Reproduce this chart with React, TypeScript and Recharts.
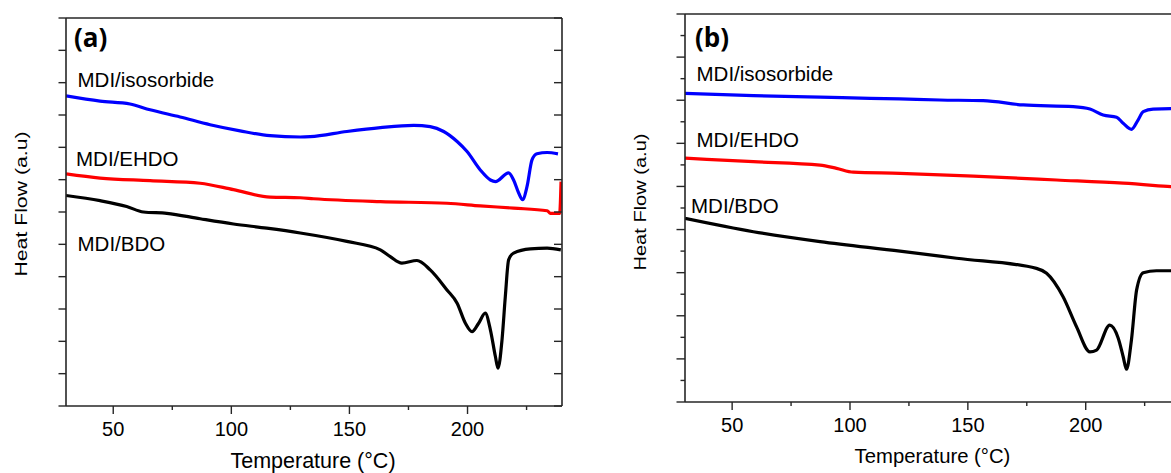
import React from 'react';
import { LineChart, Line, XAxis, YAxis } from 'recharts';

// ---------- Panel (a) data ----------
const isoA_T = [30, 44.4, 57.1, 65.6, 78.3, 91.0, 103.7, 116.4, 129.2, 133.4, 148.9, 163.1, 177.2, 184.2, 189.9, 195.6, 199.8, 205.4, 209.7, 211.8, 217.4, 219.5, 221.7, 223.3, 225.2, 227.3, 229.4, 233.7, 238.3];
const isoA_V = [9.59, 9.43, 9.34, 9.16, 8.94, 8.70, 8.51, 8.36, 8.32, 8.33, 8.49, 8.61, 8.68, 8.64, 8.49, 8.18, 7.87, 7.30, 6.99, 6.94, 7.21, 6.99, 6.58, 6.38, 6.79, 7.61, 7.80, 7.84, 7.80];

const ehdoA_T = [30, 44.4, 65.6, 86.8, 100.9, 116.4, 129.2, 134.8, 163.1, 191.3, 205.4, 219.5, 233.7, 235.1, 239.0, 239.6];
const ehdoA_V = [7.18, 7.05, 6.97, 6.89, 6.69, 6.46, 6.44, 6.41, 6.32, 6.27, 6.19, 6.12, 6.04, 5.96, 5.96, 6.94];

const bdoA_T = [30, 44.4, 55.7, 62.8, 72.7, 86.8, 100.9, 115.0, 129.2, 148.9, 163.1, 167.3, 172.2, 178.6, 184.2, 191.3, 195.6, 199.1, 201.9, 204.7, 207.5, 209.7, 211.8, 212.9, 214.6, 216.0, 217.4, 219.5, 226.6, 233.7, 239.5];
const bdoA_V = [6.51, 6.35, 6.17, 6.00, 5.96, 5.79, 5.63, 5.50, 5.35, 5.09, 4.83, 4.62, 4.42, 4.50, 4.21, 3.59, 3.18, 2.56, 2.30, 2.56, 2.87, 2.35, 1.53, 1.17, 2.04, 3.38, 4.52, 4.73, 4.86, 4.88, 4.83];

// ---------- Panel (b) data ----------
const isoB_T = [30, 59.0, 87.3, 108.5, 121.2, 138.1, 156.5, 173.5, 194.7, 201.8, 207.4, 213.1, 215.9, 219.4, 222.2, 224.4, 228.6, 236.1, 240];
const isoB_V = [14.32, 14.21, 14.14, 14.09, 14.06, 14.01, 13.98, 13.78, 13.70, 13.59, 13.31, 13.21, 12.93, 12.65, 13.08, 13.47, 13.59, 13.61, 13.61];

const ehdoB_T = [30, 59.0, 87.3, 94.3, 101.4, 121.2, 152.3, 187.6, 215.9, 236.1, 240];
const ehdoB_V = [11.31, 11.15, 10.99, 10.84, 10.66, 10.61, 10.48, 10.30, 10.15, 9.99, 9.96];

const bdoB_T = [30, 59.0, 87.3, 121.2, 145.2, 179.1, 183.4, 190.4, 196.1, 201.8, 204.6, 210.2, 213.8, 215.9, 217.3, 219.4, 221.6, 224.4, 230.0, 236.1, 240];
const bdoB_V = [8.52, 7.90, 7.44, 7.00, 6.67, 6.20, 5.97, 4.88, 3.49, 2.33, 2.41, 3.57, 2.96, 2.10, 1.52, 2.88, 5.20, 6.00, 6.09, 6.09, 6.09];

// ---------- Ticks / labels ----------
const xTicks = [50, 75, 100, 125, 150, 175, 200, 225];
const xDomain = [30, 240];
const topTicksA = [1, 2, 3, 4, 5, 6, 7, 8];
const yTicksA = [0, 1, 2, 3, 4, 5, 6, 7, 8, 9, 10, 11, 12];
const yTicksB = [0, 1, 2, 3, 4, 5, 6, 7, 8, 9, 10, 11, 12, 13, 14, 15, 16, 17, 18];
const seriesNames = ['MDI/isosorbide', 'MDI/EHDO', 'MDI/BDO'];
const panelTags = ['(a)', '(b)'];
const xTitle = 'Temperature (°C)';
const yTitle = 'Heat Flow (a.u)';

const zip = (t: number[], v: number[]) => t.map((x, i) => ({ t: x, v: v[i] }));

const AXIS = '#262626';
const FONT = '"Liberation Sans", Arial, sans-serif';

type Side = 'left' | 'right' | 'top' | 'bottom';
const makeTick = (side: Side, len: (v: number) => number, showLabel: (v: number) => boolean = () => false, labelDy = 30) =>
  (props: any) => {
    const { x, y, payload } = props;
    const v = payload.value;
    const L = len(v);
    let x2 = x;
    let y2 = y;
    if (side === 'left' || side === 'right') x2 = x - L;
    else y2 = y + L;
    return (
      <g>
        <line x1={x} y1={y} x2={x2} y2={y2} stroke={AXIS} strokeWidth={1.4} />
        {showLabel(v) && (
          <text x={x} y={y + labelDy} textAnchor="middle" fontSize={20} fontFamily={FONT} fill="#000">
            {v}
          </text>
        )}
      </g>
    );
  };

const axisLine = { stroke: AXIS, strokeWidth: 1.6 };

const Panel = ({ series, yTicks, yMax, topAxis, leftLen, rightLen, margin, width, labelDy }: any) => (
  <LineChart width={width} height={473} margin={margin}>
    <XAxis
      xAxisId="bottom"
      type="number"
      dataKey="t"
      domain={xDomain}
      ticks={xTicks}
      allowDataOverflow
      height={40}
      tickSize={0}
      tickMargin={0}
      tickLine={false}
      axisLine={axisLine}
      tick={makeTick('bottom', (v) => (v % 50 === 0 ? 8 : 4), (v) => v % 50 === 0, labelDy)}
      interval={0}
    />
    {topAxis}
    <YAxis
      yAxisId="left"
      type="number"
      domain={[0, yMax]}
      ticks={yTicks}
      allowDataOverflow
      width={10}
      tickSize={0}
      tickMargin={0}
      tickLine={false}
      axisLine={axisLine}
      tick={makeTick('left', leftLen)}
      interval={0}
    />
    <YAxis
      yAxisId="right"
      orientation="right"
      mirror
      type="number"
      domain={[0, yMax]}
      ticks={yTicks}
      allowDataOverflow
      width={10}
      tickSize={0}
      tickMargin={0}
      tickLine={false}
      axisLine={axisLine}
      tick={makeTick('right', rightLen)}
      interval={0}
    />
    {series.map((s: any, i: number) => (
      <Line
        key={i}
        xAxisId="bottom"
        yAxisId="left"
        data={s.data}
        dataKey="v"
        type="monotone"
        stroke={s.color}
        strokeWidth={3.2}
        dot={false}
        isAnimationActive={false}
      />
    ))}
  </LineChart>
);

export default function App() {
  const seriesA = [
    { data: zip(isoA_T, isoA_V), color: '#0000ff' },
    { data: zip(ehdoA_T, ehdoA_V), color: '#ff0000' },
    { data: zip(bdoA_T, bdoA_V), color: '#000000' },
  ];
  const seriesB = [
    { data: zip(isoB_T, isoB_V), color: '#0000ff' },
    { data: zip(ehdoB_T, ehdoB_V), color: '#ff0000' },
    { data: zip(bdoB_T, bdoB_V), color: '#000000' },
  ];

  const topA = (
    <XAxis
      xAxisId="topA"
      orientation="top"
      mirror
      type="number"
      domain={[0, 8.6]}
      ticks={topTicksA}
      allowDataOverflow
      tickSize={0}
      tickMargin={0}
      tickLine={false}
      axisLine={axisLine}
      tick={makeTick('top', () => 7)}
      interval={0}
    />
  );
  const topB = (
    <XAxis
      xAxisId="topB"
      orientation="top"
      mirror
      type="number"
      domain={xDomain}
      ticks={xTicks}
      allowDataOverflow
      tickSize={0}
      tickMargin={0}
      tickLine={false}
      axisLine={axisLine}
      tick={makeTick('top', (v) => (v % 50 === 0 ? 8 : 5))}
      interval={0}
    />
  );

  const txt = { fontFamily: FONT, fill: '#000' } as any;
  const bold = { fontFamily: '"Open Sans", "Noto Sans", sans-serif', fontWeight: 700, fill: '#000' } as any;

  return (
    <div style={{ position: 'absolute', left: 0, top: 0, width: 1171, height: 473, overflow: 'hidden', background: '#fff' }}>
      <div style={{ position: 'absolute', left: 0, top: 0 }}>
        <Panel
          series={seriesA}
          yTicks={yTicksA}
          yMax={12}
          topAxis={topA}
          leftLen={() => 7.5}
          rightLen={() => 8}
          width={600}
          labelDy={30}
          margin={{ top: 18, right: 38, bottom: 27, left: 56 }}
        />
      </div>
      <div style={{ position: 'absolute', left: 620, top: 0 }}>
        <Panel
          series={seriesB}
          yTicks={yTicksB}
          yMax={18}
          topAxis={topB}
          leftLen={(v: number) => (v % 2 === 0 ? 8.5 : 4.5)}
          rightLen={(v: number) => (v % 2 === 0 ? 8 : 4)}
          width={600}
          labelDy={30}
          margin={{ top: 14, right: 40, bottom: 31, left: 55 }}
        />
      </div>
      <svg width={1171} height={473} style={{ position: 'absolute', left: 0, top: 0, pointerEvents: 'none' }}>
        <text x={74} y={47} fontSize={26} {...bold}>{panelTags[0]}</text>
        <text x={77.5} y={87} fontSize={20.5} {...txt}>{seriesNames[0]}</text>
        <text x={76} y={165.5} fontSize={20.5} {...txt}>{seriesNames[1]}</text>
        <text x={77.5} y={251} fontSize={20.5} {...txt}>{seriesNames[2]}</text>
        <text x={313} y={467.5} fontSize={21.5} textAnchor="middle" {...txt}>{xTitle}</text>
        <text transform="translate(26.5,204) rotate(-90)" fontSize={17} textAnchor="middle" textLength={145} lengthAdjust="spacingAndGlyphs" {...txt}>{yTitle}</text>

        <text x={695} y={47} fontSize={26} {...bold}>{panelTags[1]}</text>
        <text x={696.5} y={81} fontSize={20.5} {...txt}>{seriesNames[0]}</text>
        <text x={696.5} y={147} fontSize={20.5} {...txt}>{seriesNames[1]}</text>
        <text x={691} y={213} fontSize={20.5} {...txt}>{seriesNames[2]}</text>
        <text x={932.5} y={463} fontSize={20.3} textAnchor="middle" {...txt}>{xTitle}</text>
        <text transform="translate(646,202) rotate(-90)" fontSize={17} textAnchor="middle" textLength={137} lengthAdjust="spacingAndGlyphs" {...txt}>{yTitle}</text>
      </svg>
    </div>
  );
}
